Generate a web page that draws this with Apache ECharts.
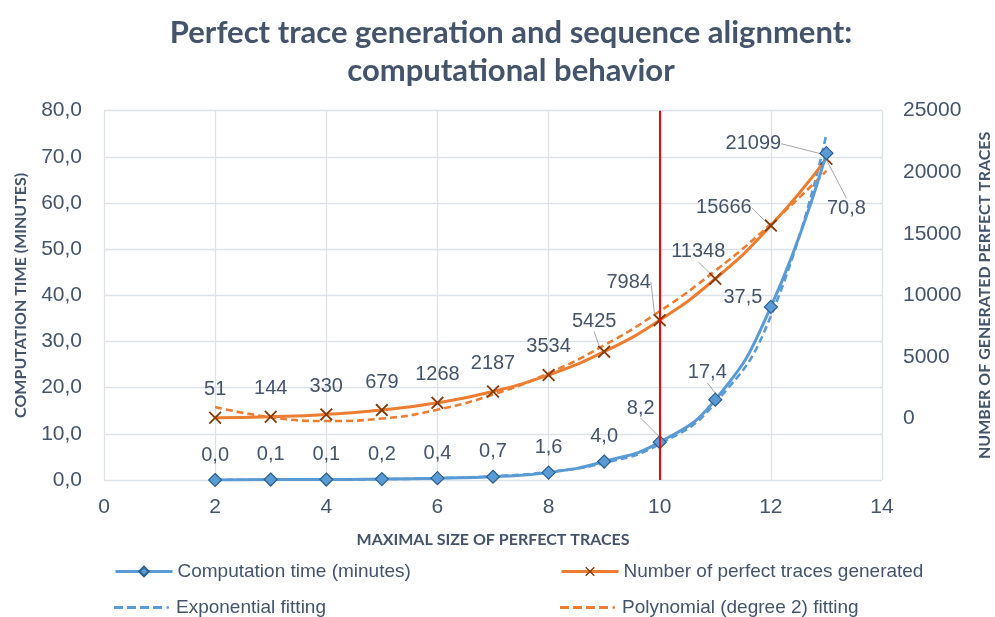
<!DOCTYPE html>
<html>
<head>
<meta charset="utf-8">
<script src="https://cdn.jsdelivr.net/npm/echarts@6/dist/echarts.min.js"></script>
<style>
  html, body { margin: 0; padding: 0; background: #ffffff; }
  #chart { width: 995px; height: 617px; }
</style>
</head>
<body>
<div id="chart"></div>
<script>
// Maximal size of perfect traces (x values)
const sizes = [2, 3, 4, 5, 6, 7, 8, 9, 10, 11, 12, 13];
// Computation time in minutes
const computationTime = [0.0, 0.1, 0.1, 0.2, 0.4, 0.7, 1.6, 4.0, 8.2, 17.4, 37.5, 70.8];
// Number of perfect traces generated
const tracesGenerated = [51, 144, 330, 679, 1268, 2187, 3534, 5425, 7984, 11348, 15666, 21099];
// Exponential trend of the computation time
const exponentialFit = [0.019, 0.04, 0.086, 0.18, 0.39, 0.82, 1.75, 3.7, 7.8, 16.7, 35.5, 75.0];
// Degree-2 polynomial trend of the number of traces
const polynomialFit = [930, 100, -210, -10, 710, 1940, 3680, 5940, 8710, 12000, 15800, 20110];
// Vertical marker position on the x axis
const markerSize = 10;

const TEXT = '#44546A';
const BLUE = '#5B9BD5';
const ORANGE = '#ED7D31';
const GRID = '#DDE1E8';
const SANS = '"Liberation Sans", Arial, sans-serif';
const TITLE_FONT = 'Lato, "Open Sans", sans-serif';

// label placement (offset of label centre from the marker centre)
const timeLabelPos = { 8: [-19, -34], 9: [-8, -27], 10: [-28, -9], 11: [20, 55] };
const timeLeader = [8, 9, 11];
const traceLabelPos = { 7: [-10, -30], 8: [-31, -38], 9: [-17, -27], 10: [-47, -18], 11: [-73, -15] };
const traceLeader = [7, 8, 9, 10, 11];

const X_MARK = 'path://M0,1L1,0L5,4L9,0L10,1L6,5L10,9L9,10L5,6L1,10L0,9L4,5Z';
// dashed legend key: four dashes and a dot inside a 57x12 box
const DASH_KEY = 'path://M0,0L0.01,0L0,0.01ZM57,12L56.99,12L57,11.99Z' +
  'M0,4.6h9v2.8h-9zM13,4.6h9v2.8h-9zM26,4.6h9v2.8h-9zM39,4.6h9v2.8h-9zM52.5,4.8h2.4v2.4h-2.4z';

const fmt1 = v => v.toFixed(1).replace('.', ',');

function pairs(ys, leaders) {
  return sizes.map((x, i) => {
    const item = { value: [x, ys[i]] };
    if (leaders && leaders.indexOf(i) >= 0) {
      item.labelLine = { show: true, lineStyle: { color: '#A6A6A6', width: 1 } };
    }
    return item;
  });
}

function layoutFor(posMap, defaultPos) {
  return function (p) {
    const off = posMap[p.dataIndex] || defaultPos;
    const cx = p.rect.x + p.rect.width / 2;
    const cy = p.rect.y + p.rect.height / 2;
    return { x: cx + off[0], y: cy + off[1], align: 'center', verticalAlign: 'middle' };
  };
}

const chart = echarts.init(document.getElementById('chart'), null, { renderer: 'canvas' });

const legendText = { color: TEXT, fontSize: 19, fontFamily: SANS };
function legendAt(name, left, top, icon) {
  const item = icon ? { name: name, icon: icon } : name;
  return {
    data: [item], left: left, top: top, itemWidth: 57, itemHeight: 12, itemGap: 6,
    textStyle: legendText, padding: 0, selectedMode: false,
    lineStyle: { width: 3 }
  };
}

chart.setOption({
  backgroundColor: '#ffffff',
  animation: false,
  title: {
    text: 'Perfect trace generation and sequence alignment:\ncomputational behavior',
    left: 506, top: 9, textAlign: 'center',
    textStyle: { color: TEXT, fontFamily: TITLE_FONT, fontWeight: 'bold', fontSize: 31, lineHeight: 38 }
  },
  legend: [
    legendAt('Computation time (minutes)', 114, 562),
    legendAt('Number of perfect traces generated', 560, 562),
    legendAt('Exponential fitting', 114, 598, DASH_KEY),
    legendAt('Polynomial (degree 2) fitting', 560, 598, DASH_KEY)
  ],
  grid: { left: 104, right: 113, top: 110.7, bottom: 137, containLabel: false, outerBoundsMode: 'none' },
  xAxis: {
    type: 'value', min: 0, max: 14, interval: 2,
    name: 'MAXIMAL SIZE OF PERFECT TRACES', nameLocation: 'middle', nameGap: 52,
    nameTextStyle: { color: TEXT, fontFamily: TITLE_FONT, fontWeight: 'bold', fontSize: 16 },
    axisLine: { show: false }, axisTick: { show: false },
    axisLabel: { color: TEXT, fontSize: 21, fontFamily: SANS, margin: 17 },
    splitLine: { show: true, lineStyle: { color: GRID, width: 1.3 } }
  },
  yAxis: [
    {
      type: 'value', min: 0, max: 80, interval: 10,
      name: 'COMPUTATION TIME (MINUTES)', nameLocation: 'middle', nameGap: 75,
      nameTextStyle: { color: TEXT, fontFamily: TITLE_FONT, fontWeight: 'bold', fontSize: 16 },
      axisLine: { show: false }, axisTick: { show: false },
      axisLabel: { color: TEXT, fontSize: 21, fontFamily: SANS, margin: 22, formatter: v => fmt1(v) },
      splitLine: { show: true, lineStyle: { color: GRID, width: 1.3 } }
    },
    {
      type: 'value', min: -5000, max: 25000, interval: 5000, position: 'right',
      name: 'NUMBER OF GENERATED PERFECT TRACES', nameLocation: 'middle', nameGap: 95, nameRotate: 90,
      nameTextStyle: { color: TEXT, fontFamily: TITLE_FONT, fontWeight: 'bold', fontSize: 16 },
      axisLine: { show: false }, axisTick: { show: false },
      axisLabel: { color: TEXT, fontSize: 21, fontFamily: SANS, margin: 21,
        formatter: v => (v < 0 ? '' : String(v)) },
      splitLine: { show: false }
    }
  ],
  series: [
    {
      name: 'Exponential fitting', type: 'line', yAxisIndex: 0, smooth: true,
      data: pairs(exponentialFit), showSymbol: false, symbol: 'none',
      itemStyle: { color: BLUE },
      lineStyle: { color: BLUE, width: 2.6, type: [7, 4] }, z: 2
    },
    {
      name: 'Polynomial (degree 2) fitting', type: 'line', yAxisIndex: 1, smooth: true,
      data: pairs(polynomialFit), showSymbol: false, symbol: 'none',
      itemStyle: { color: ORANGE },
      lineStyle: { color: ORANGE, width: 2.6, type: [7, 4] }, z: 2
    },
    {
      name: 'Number of perfect traces generated', type: 'line', yAxisIndex: 1, smooth: true,
      data: pairs(tracesGenerated, traceLeader),
      symbol: X_MARK, symbolSize: 13,
      itemStyle: { color: '#843C0C' },
      lineStyle: { color: ORANGE, width: 3 },
      label: { show: true, color: TEXT, fontSize: 20, fontFamily: SANS, formatter: p => String(p.value[1]) },
      labelLayout: layoutFor(traceLabelPos, [0, -28]),
      z: 3
    },
    {
      name: 'Computation time (minutes)', type: 'line', yAxisIndex: 0, smooth: true,
      data: pairs(computationTime, timeLeader),
      symbol: 'diamond', symbolSize: 13,
      itemStyle: { color: BLUE, borderColor: '#2A5F8E', borderWidth: 1.2 },
      lineStyle: { color: BLUE, width: 3 },
      label: { show: true, color: TEXT, fontSize: 20, fontFamily: SANS, formatter: p => fmt1(p.value[1]) },
      labelLayout: layoutFor(timeLabelPos, [0, -25]),
      markLine: {
        silent: true, symbol: ['none', 'none'], label: { show: false },
        lineStyle: { color: '#FF0000', width: 2, type: 'solid' },
        data: [{ xAxis: markerSize }]
      },
      z: 4
    }
  ]
});
</script>
</body>
</html>
